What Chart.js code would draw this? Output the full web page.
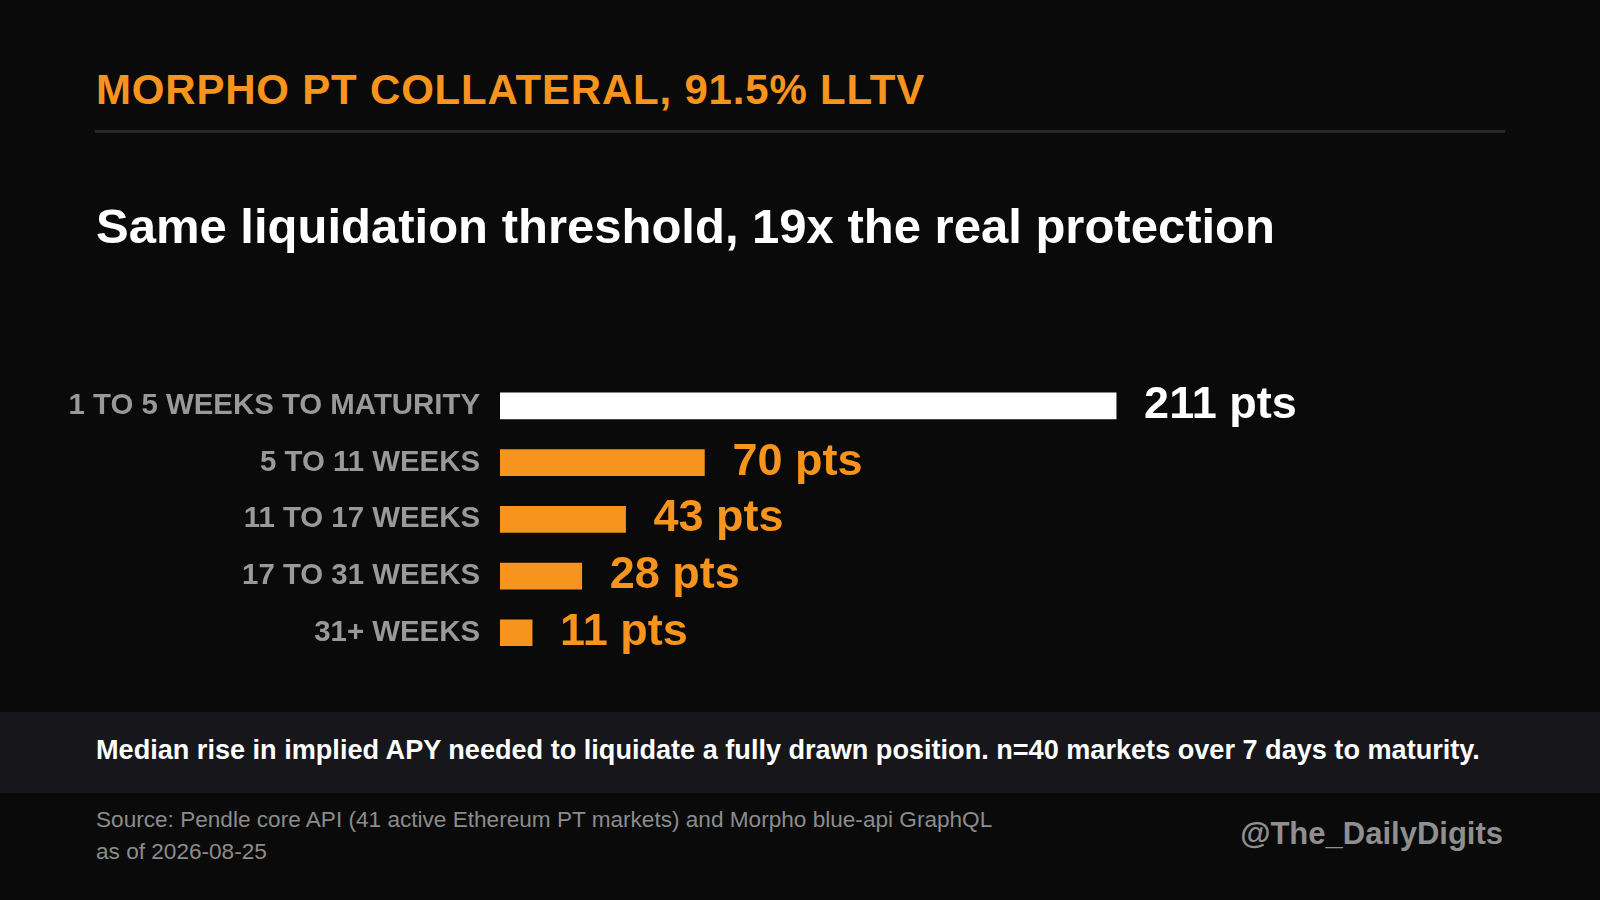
<!DOCTYPE html>
<html>
<head>
<meta charset="utf-8">
<script src="https://cdn.jsdelivr.net/npm/chart.js@4"></script>
<style>
    html, body { margin: 0; padding: 0; }
    body {
        width: 1600px; height: 900px; position: relative; overflow: hidden;
        background: #0a0a0a; font-family: 'Liberation Sans', Arial, sans-serif;
    }
    .kicker {
        position: absolute; left: 96px; top: 65px; margin: 0;
        font-size: 42px; font-weight: 700; color: #f7941d; letter-spacing: 0.8px;
        line-height: 50px;
    }
    .rule { position: absolute; left: 95px; top: 130px; width: 1410px; height: 3px; background: #26262c; }
    .headline {
        position: absolute; left: 96px; top: 197px; margin: 0;
        font-size: 49px; font-weight: 700; color: #ffffff; line-height: 58px;
    }
    #chartBox { position: absolute; left: 0; top: 370px; width: 1600px; height: 300px; }
    .note {
        position: absolute; left: 0; top: 712px; width: 1600px; height: 81px;
        background: #16161b;
    }
    .note p {
        margin: 0; position: absolute; left: 96px; top: 23px;
        font-size: 27.1px; font-weight: 700; color: #ffffff; line-height: 30px;
    }
    .source {
        position: absolute; left: 96px; top: 804px; margin: 0;
        font-size: 22.6px; color: #8c8c8c; line-height: 32px;
    }
    .handle {
        position: absolute; right: 97px; top: 816px; margin: 0;
        font-size: 31px; font-weight: 700; color: #8f8f8f; line-height: 36px;
    }
</style>
</head>
<body>
<h2 class="kicker">MORPHO PT COLLATERAL, 91.5% LLTV</h2>
<div class="rule"></div>
<h1 class="headline">Same liquidation threshold, 19x the real protection</h1>
<div id="chartBox"><canvas id="bufferChart"></canvas></div>
<div class="note"><p>Median rise in implied APY needed to liquidate a fully drawn position. n=40 markets over 7 days to maturity.</p></div>
<p class="source">Source: Pendle core API (41 active Ethereum PT markets) and Morpho blue-api GraphQL<br>as of 2026-08-25</p>
<p class="handle">@The_DailyDigits</p>

<script>
// Maturity buckets and median implied-APY buffer (pts)
const buckets = ['1 TO 5 WEEKS TO MATURITY', '5 TO 11 WEEKS', '11 TO 17 WEEKS', '17 TO 31 WEEKS', '31+ WEEKS'];
const medianPts = [211, 70, 43, 28, 11];
const barColors = ['#ffffff', '#f7941d', '#f7941d', '#f7941d', '#f7941d'];

const ORANGE = '#f7941d';
const FONT = '"Liberation Sans", Arial, sans-serif';

// Draw "NN pts" just past the end of each bar
const valueLabels = {
    id: 'valueLabels',
    afterDatasetsDraw(chart) {
        const { ctx } = chart;
        const meta = chart.getDatasetMeta(0);
        ctx.save();
        ctx.font = '700 45px ' + FONT;
        ctx.textAlign = 'left';
        ctx.textBaseline = 'alphabetic';
        meta.data.forEach((bar, i) => {
            ctx.fillStyle = i === 0 ? '#ffffff' : ORANGE;
            ctx.fillText(medianPts[i] + ' pts', bar.x + 28, bar.y + 12);
        });
        ctx.restore();
    }
};

new Chart(document.getElementById('bufferChart'), {
    type: 'bar',
    data: {
        labels: buckets,
        datasets: [{
            data: medianPts,
            backgroundColor: barColors,
            borderWidth: 0,
            barThickness: 26
        }]
    },
    options: {
        indexAxis: 'y',
        responsive: true,
        maintainAspectRatio: false,
        animation: false,
        layout: { padding: { top: 7.6, bottom: 8.9, left: 0, right: 224 } },
        plugins: {
            legend: { display: false },
            tooltip: { enabled: false }
        },
        scales: {
            x: {
                display: false,
                min: 0,
                max: 300
            },
            y: {
                grid: { display: false, drawTicks: false },
                border: { display: false },
                ticks: {
                    color: '#999999',
                    padding: 20,
                    font: { family: FONT, size: 29.4, weight: '700' }
                },
                afterFit: (scale) => {
                    scale.width = 500;
                    scale.paddingTop = 0;
                    scale.paddingBottom = 0;
                }
            }
        }
    },
    plugins: [valueLabels]
});
</script>
</body>
</html>
